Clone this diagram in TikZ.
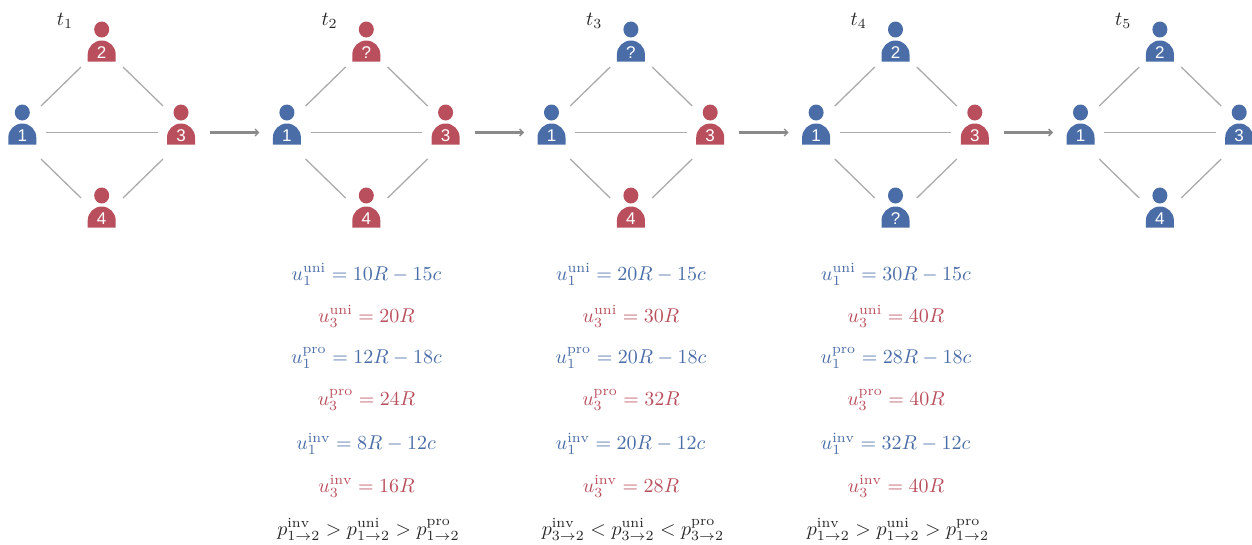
\documentclass[tikz,border=0pt]{standalone}
\usepackage{fontspec}
\usetikzlibrary{arrows.meta}
\newfontfamily\digitfont{Liberation Sans}
\definecolor{pblue}{HTML}{4A6DA7}
\definecolor{pred}{HTML}{B94F5C}
\definecolor{edgegray}{HTML}{ABABAB}
\definecolor{arrowgray}{HTML}{8A8A8A}
\definecolor{inkblack}{HTML}{262626}
\tikzset{
  x=1pt,y=-1pt,
  persontag/.style={text=white,font=\digitfont\fontsize{17}{18}\selectfont,inner sep=0pt,anchor=center},
  edgeline/.style={draw=edgegray,line width=1.3pt},
  steparrow/.style={draw=arrowgray,line width=2.4pt,-{Straight Barb[length=3.5pt,width=7pt,line width=1.3pt]}},
  timelabel/.style={scale=2,text=inkblack,inner sep=0pt,anchor=center},
  eqlabel/.style={scale=2,inner sep=0pt,anchor=base},
}
% #1 node name, #2 x, #3 y of the body bottom, #4 colour, #5 text
\newcommand{\personfig}[5]{%
  \fill[#4] (#2,#3-32) ellipse[x radius=7.5,y radius=8];
  \fill[#4] (#2-14,#3) -- (#2-14,#3-7)
    .. controls (#2-14,#3-14.7) and (#2-7.7,#3-21) .. (#2,#3-21)
    .. controls (#2+7.7,#3-21) and (#2+14,#3-14.7) .. (#2+14,#3-7)
    -- (#2+14,#3) -- cycle;
  \node[persontag] (#1) at (#2,#3-8.5) {#5};
}
\newcommand{\panel}[8]{% #1 index, #2 x offset, #3-#6 colours 1..4, #7 text of 2, #8 text of 4
  \personfig{p#1a}{22.3+#2}{144.5}{#3}{1}
  \personfig{p#1b}{101.7+#2}{61.5}{#4}{#7}
  \personfig{p#1c}{181+#2}{144.5}{#5}{3}
  \personfig{p#1d}{101.7+#2}{227.5}{#6}{#8}
  \draw[edgeline] ([xshift=18.7,yshift=30]p#1a.center) -- ([xshift=-20.7,yshift=-14]p#1b.center);
  \draw[edgeline] ([xshift=21.3,yshift=-14]p#1b.center) -- ([xshift=-18,yshift=30]p#1c.center);
  \draw[edgeline] ([xshift=23.7,yshift=3.5]p#1a.center) -- ([xshift=-23.5,yshift=3.5]p#1c.center);
  \draw[edgeline] ([xshift=18.7,yshift=-23]p#1a.center) -- ([xshift=-20.7,yshift=21]p#1d.center);
  \draw[edgeline] ([xshift=-18,yshift=-23]p#1c.center) -- ([xshift=21.3,yshift=21]p#1d.center);
  \node[timelabel] (t#1) at (65+#2,20.5) {$t_{#1}$};
}
\newcommand{\eqcol}[9]{% #1 x, #2..#8 contents, #9 column id
  \node[eqlabel,text=pblue] (e#9a) at (#1,280) {$#2$};
  \node[eqlabel,text=pred]  (e#9b) at (#1,322) {$#3$};
  \node[eqlabel,text=pblue] (e#9c) at (#1,363.5) {$#4$};
  \node[eqlabel,text=pred]  (e#9d) at (#1,405.5) {$#5$};
  \node[eqlabel,text=pblue] (e#9e) at (#1-0.5,449.5) {$#6$};
  \node[eqlabel,text=pred]  (e#9f) at (#1,492) {$#7$};
  \node[eqlabel,text=inkblack] (e#9g) at (#1+2,535) {$#8$};
}
\newcommand{\uu}[2]{u_{#1}^{\mathrm{#2}}}
\newcommand{\pp}[2]{p_{#1\to 2}^{\mathrm{#2}}}
\begin{document}
\begin{tikzpicture}
\useasboundingbox (0,0) rectangle (1252,544);
\panel{1}{0}{pblue}{pred}{pred}{pred}{2}{4}
\panel{2}{264.6}{pblue}{pred}{pred}{pred}{?}{4}
\panel{3}{529.2}{pblue}{pblue}{pred}{pred}{?}{4}
\panel{4}{793.8}{pblue}{pblue}{pred}{pblue}{2}{?}
\panel{5}{1058.2}{pblue}{pblue}{pblue}{pblue}{2}{4}
\foreach \a/\b in {1/2,2/3,3/4,4/5}
  \draw[steparrow] ([xshift=29,yshift=3.5]p\a c.center) -- ([xshift=-27.5,yshift=3.5]p\b a.center);
\eqcol{366.5}{\uu{1}{uni}=10R-15c}{\uu{3}{uni}=20R}{\uu{1}{pro}=12R-18c}{\uu{3}{pro}=24R}{\uu{1}{inv}=8R-12c}{\uu{3}{inv}=16R}{\pp{1}{inv}>\pp{1}{uni}>\pp{1}{pro}}{A}
\eqcol{631}{\uu{1}{uni}=20R-15c}{\uu{3}{uni}=30R}{\uu{1}{pro}=20R-18c}{\uu{3}{pro}=32R}{\uu{1}{inv}=20R-12c}{\uu{3}{inv}=28R}{\pp{3}{inv}<\pp{3}{uni}<\pp{3}{pro}}{B}
\eqcol{896}{\uu{1}{uni}=30R-15c}{\uu{3}{uni}=40R}{\uu{1}{pro}=28R-18c}{\uu{3}{pro}=40R}{\uu{1}{inv}=32R-12c}{\uu{3}{inv}=40R}{\pp{1}{inv}>\pp{1}{uni}>\pp{1}{pro}}{C}
\end{tikzpicture}
\end{document}
